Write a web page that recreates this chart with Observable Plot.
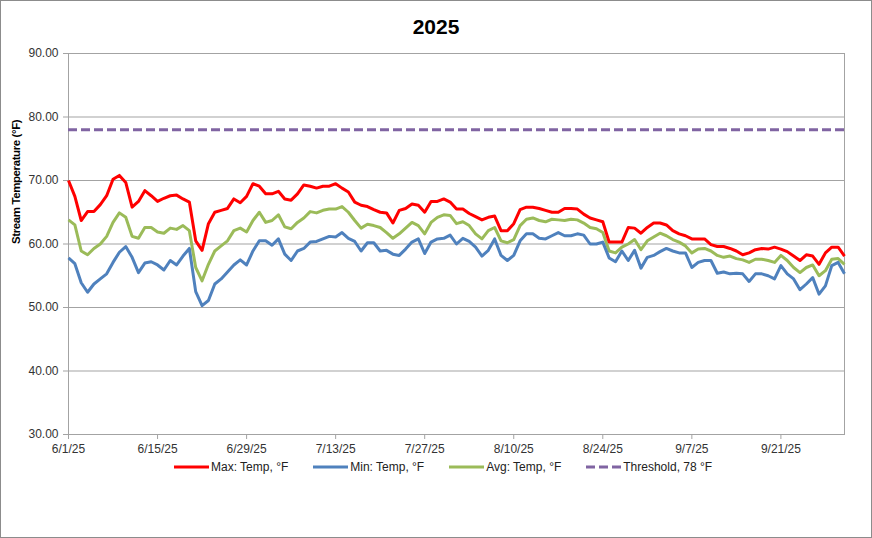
<!DOCTYPE html>
<html>
<head>
<meta charset="utf-8">
<script src="https://cdn.jsdelivr.net/npm/d3@7"></script>
<script src="https://cdn.jsdelivr.net/npm/@observablehq/plot@0.6"></script>
<style>
  body { margin: 0; background: #fff; }
  #chart { position: relative; width: 872px; height: 538px; overflow: hidden; background: #fff;
           font-family: "Liberation Sans", Arial, sans-serif; color: #000; }
  #frame { position: absolute; left: 0; top: 0; width: 870px; height: 536px; border: 1px solid #8c8c8c; pointer-events: none; }
  #title { position: absolute; left: 0; top: 0; width: 872px; height: 54px; line-height: 54px; text-align: center;
           font-weight: bold; font-size: 21px; }
  #plot { position: absolute; left: 0; top: 45px; }
  #legend { position: absolute; left: 174px; top: 460px; display: flex; align-items: center; gap: 25px; font-size: 12px; color: #222; }
  .item { display: flex; align-items: center; white-space: nowrap; }
  .item svg { margin-right: 2px; }
</style>
</head>
<body>
<div id="chart">
  <div id="title"></div>
  <div id="plot"></div>
  <div id="legend"></div>
  <div id="frame"></div>
</div>
<script>
// ---- data ----
const chartTitle = "2025";
const yLabel = "Stream Temperature (°F)";
const startDate = "2025-06-01";   // first daily reading
const endDate = "2025-10-01";     // axis end
const tickDates = ["2025-06-01","2025-06-15","2025-06-29","2025-07-13","2025-07-27","2025-08-10","2025-08-24","2025-09-07","2025-09-21"];
const yTicks = [30, 40, 50, 60, 70, 80, 90];
const threshold = 78;

const maxTemp = [
  70.0, 67.5, 63.7, 65.1, 65.1, 66.2, 67.6, 70.2, 70.8, 69.7,
  65.8, 66.7, 68.4, 67.6, 66.7, 67.2, 67.6, 67.7, 67.1, 66.6,
  60.5, 59.0, 63.2, 65.0, 65.3, 65.6, 67.1, 66.5, 67.5, 69.5,
  69.1, 67.9, 67.9, 68.3, 67.1, 66.9, 67.9, 69.3, 69.1, 68.8,
  69.1, 69.1, 69.5, 68.8, 68.2, 66.6, 66.1, 65.9, 65.4, 65.0,
  64.9, 63.3, 65.3, 65.6, 66.3, 66.1, 65.0, 66.7, 66.7, 67.1,
  66.6, 65.5, 65.5, 64.8, 64.3, 63.8, 64.2, 64.4, 62.1, 62.1,
  63.2, 65.4, 65.8, 65.8, 65.6, 65.3, 65.0, 65.0, 65.6, 65.6,
  65.5, 64.7, 64.1, 63.8, 63.5, 60.3, 60.3, 60.3, 62.6, 62.5,
  61.7, 62.6, 63.3, 63.3, 63.0, 62.1, 61.6, 61.3, 60.8, 60.8,
  60.8, 59.9, 59.6, 59.6, 59.3, 58.9, 58.3, 58.6, 59.1, 59.3,
  59.2, 59.5, 59.2, 58.8, 58.1, 57.4, 58.3, 58.1, 56.8, 58.6,
  59.5, 59.5, 58.1
];
const minTemp = [
  57.8, 56.9, 53.9, 52.4, 53.7, 54.5, 55.3, 57.1, 58.7, 59.6,
  57.9, 55.5, 57.0, 57.2, 56.7, 55.9, 57.4, 56.7, 58.1, 59.3,
  52.5, 50.3, 51.1, 53.7, 54.5, 55.6, 56.7, 57.5, 56.7, 58.9,
  60.5, 60.5, 59.8, 60.8, 58.4, 57.4, 58.9, 59.3, 60.3, 60.4,
  60.8, 61.2, 61.1, 61.8, 60.9, 60.4, 58.9, 60.2, 60.2, 58.9,
  59.0, 58.4, 58.2, 59.2, 60.3, 60.8, 58.5, 60.3, 60.8, 60.9,
  61.4, 60.0, 60.9, 60.4, 59.5, 58.1, 59.0, 60.8, 58.2, 57.4,
  58.2, 60.5, 61.6, 61.6, 60.9, 60.8, 61.3, 61.8, 61.3, 61.3,
  61.6, 61.4, 60.0, 60.0, 60.3, 57.8, 57.2, 58.9, 57.4, 59.0,
  56.2, 57.9, 58.2, 58.8, 59.3, 58.9, 58.6, 58.6, 56.3, 57.1,
  57.4, 57.4, 55.4, 55.6, 55.3, 55.4, 55.3, 54.1, 55.3, 55.3,
  55.0, 54.5, 56.6, 55.3, 54.5, 52.8, 53.7, 54.7, 52.1, 53.4,
  56.6, 57.1, 55.3
];
const avgTemp = [
  63.8, 63.0, 58.9, 58.3, 59.3, 60.0, 61.2, 63.4, 64.9, 64.2,
  61.2, 60.9, 62.6, 62.6, 61.9, 61.7, 62.5, 62.3, 62.9, 62.1,
  56.3, 54.2, 56.8, 58.9, 59.7, 60.5, 62.1, 62.5, 61.9, 63.7,
  65.0, 63.4, 63.7, 64.6, 62.7, 62.4, 63.4, 64.1, 65.1, 64.9,
  65.3, 65.5, 65.5, 65.9, 65.0, 63.7, 62.5, 63.1, 62.9, 62.6,
  61.8, 60.9, 61.6, 62.5, 63.4, 62.9, 61.6, 63.4, 64.2, 64.6,
  64.5, 63.2, 63.5, 62.9, 61.6, 60.8, 62.1, 62.6, 60.5, 60.2,
  60.7, 62.9, 63.9, 64.1, 63.7, 63.5, 63.9, 63.8, 63.7, 63.9,
  63.8, 63.3, 62.6, 62.4, 61.8, 58.9, 58.6, 59.5, 60.0, 60.7,
  59.1, 60.5, 61.1, 61.7, 61.3, 60.7, 60.3, 59.7, 58.6, 59.2,
  59.3, 58.9, 58.2, 57.9, 58.1, 57.7, 57.5, 57.1, 57.6, 57.6,
  57.4, 57.1, 58.2, 57.4, 56.3, 55.5, 56.3, 56.7, 55.0, 55.8,
  57.6, 57.7, 56.8
];

const seriesNames = ["Max: Temp, °F", "Min: Temp, °F", "Avg: Temp, °F", "Threshold, 78 °F"];
const seriesColors = ["#ff0000", "#4f81bd", "#9bbb59", "#8064a2"];

// ---- build ----
const start = new Date(startDate);
const dates = maxTemp.map((_, i) => d3.utcDay.offset(start, i));
const rows = (vals) => vals.map((v, i) => ({date: dates[i], value: v}));

const plot = Plot.plot({
  width: 872,
  height: 420,
  marginLeft: 68,
  marginRight: 28,
  marginTop: 8,
  marginBottom: 31,
  style: {fontFamily: "'Liberation Sans', Arial, sans-serif", fontSize: "12px", background: "transparent", color: "#333"},
  x: {type: "utc", domain: [new Date(startDate), new Date(endDate)]},
  y: {domain: [30, 90]},
  marks: [
    Plot.ruleY(yTicks, {stroke: "#a3a3a3", strokeWidth: 1}),
    Plot.frame({stroke: "#a3a3a3"}),
    Plot.axisY({ticks: yTicks, tickFormat: d => d.toFixed(2), tickSize: 5, tickPadding: 5,
                stroke: "#a3a3a3", fill: "#333", fontSize: 12, label: null}),
    Plot.axisX({ticks: tickDates.map(d => new Date(d)), tickFormat: d3.utcFormat("%-m/%-d/%y"),
                tickSize: 5, tickPadding: 5, stroke: "#a3a3a3", fill: "#333", fontSize: 12, label: null}),
    Plot.ruleY([threshold], {stroke: seriesColors[3], strokeWidth: 3, strokeDasharray: "9,4"}),
    Plot.lineY(rows(avgTemp), {x: "date", y: "value", stroke: seriesColors[2], strokeWidth: 3, strokeLinejoin: "round", strokeLinecap: "butt"}),
    Plot.lineY(rows(minTemp), {x: "date", y: "value", stroke: seriesColors[1], strokeWidth: 3, strokeLinejoin: "round", strokeLinecap: "butt"}),
    Plot.lineY(rows(maxTemp), {x: "date", y: "value", stroke: seriesColors[0], strokeWidth: 3, strokeLinejoin: "round", strokeLinecap: "butt"}),
    Plot.text([yLabel], {frameAnchor: "left", dx: -52, rotate: -90, fontWeight: "bold", fontSize: 11.5, fill: "#000"})
  ]
});
document.getElementById("plot").appendChild(plot);
d3.select(plot).selectAll("text").filter(function() { return this.textContent === yLabel; })
  .attr("letter-spacing", "-0.4");

document.getElementById("title").textContent = chartTitle;

const legend = document.getElementById("legend");
seriesNames.forEach((name, i) => {
  const item = document.createElement("div");
  item.className = "item";
  const dash = i === 3 ? ' stroke-dasharray="9,4"' : "";
  item.innerHTML = `<svg width="35" height="6"><line x1="0" y1="3" x2="35" y2="3" stroke="${seriesColors[i]}" stroke-width="3"${dash}/></svg><span>${name}</span>`;
  legend.appendChild(item);
});
</script>
</body>
</html>
